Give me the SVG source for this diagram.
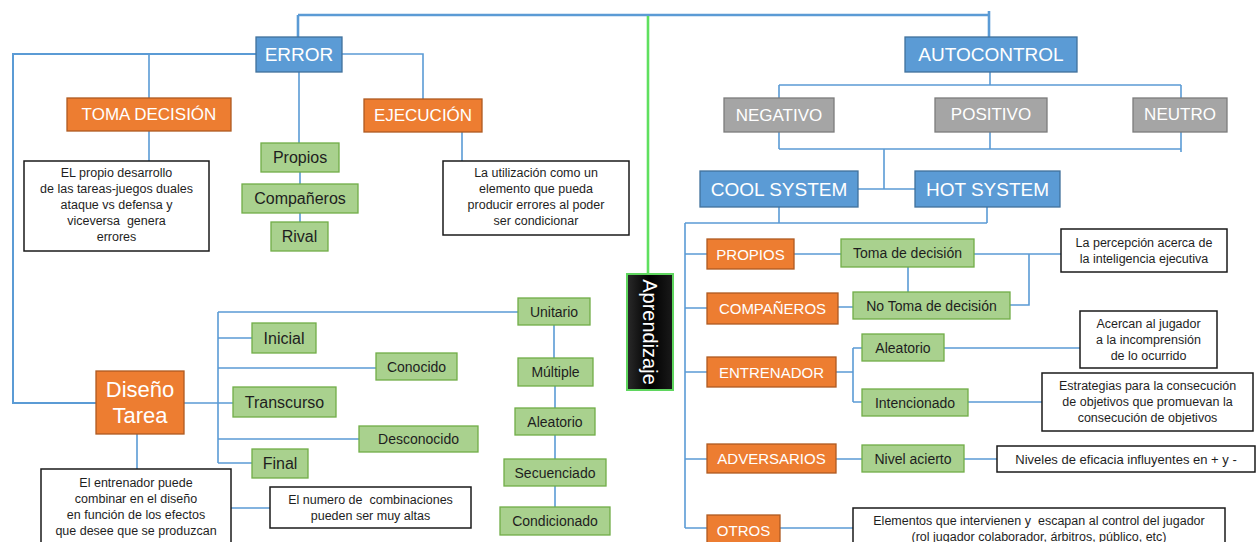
<svg xmlns="http://www.w3.org/2000/svg" width="1259" height="542" viewBox="0 0 1259 542">
<defs>
<style>
.bl{fill:#5b9bd5;stroke:#41719c;stroke-width:1.3}
.or{fill:#ed7d31;stroke:#ae5a21;stroke-width:1.3}
.gr{fill:#a5a5a5;stroke:#7c7c7c;stroke-width:1.3}
.gn{fill:#a9d18e;stroke:#70ad47;stroke-width:1.3}
.tb{fill:#ffffff;stroke:#1a1a1a;stroke-width:1.5}
text{font-family:"Liberation Sans",Arial,sans-serif;text-anchor:middle;dominant-baseline:central;white-space:pre}
.w{fill:#ffffff}
.d{fill:#1e1e1e}
.c{fill:none;stroke:#5b9bd5;stroke-width:1.6}
</style>
<linearGradient id="apg" x1="0" y1="0" x2="1" y2="0">
<stop offset="0" stop-color="#2a2a2a"/>
<stop offset="0.5" stop-color="#000000"/>
<stop offset="1" stop-color="#1a1a1a"/>
</linearGradient>
</defs>
<rect width="1259" height="542" fill="#ffffff"/>
<g id="connectors">
<path class="c" style="stroke-width:2.6" d="M298,15 H989 M298,15 V37 M989,11 V37"/>
<path fill="none" stroke="#5fe05f" stroke-width="2.6" d="M648,16 V274"/>
<path class="c" style="stroke-width:2" d="M256,54 H13 V403 H96"/>
<path class="c" d="M149,54 V98 M342,54 H423 V99 M299,72 V143 M300,172 V184 M300,213 V222 M149,131 V161 M462,132 V161"/>
<path class="c" d="M990,72 V85 M779,85 H1181 M779,85 V98 M1181,85 V98 M779,132 V149 M990,132 V149 M1181,132 V152 M779,149 H1181 M884,149 V189 M858,189 H915"/>
<path class="c" d="M779,207 V223 M987,207 V223 M685,223 H987 M685,223 V528 M685,254 H707 M685,308 H707 M685,372 H707 M685,459 H707 M685,528 H707"/>
<path class="c" d="M794,254 H841 M974,254 H1061 M1029,254 V305 H1010 M908,267 V292 M838,307 H853"/>
<path class="c" d="M836,372 H853 M853,348 V402 M853,348 H862 M853,402 H862 M944,348 H1080 M968,402 H1042 M836,459 H862 M964,459 H997 M780,528 H853"/>
<path class="c" d="M184,403 H233 M218,312 V463 M218,312 H518 M218,338 H252 M218,368 H376 M218,439 H359 M218,463 H252"/>
<path class="c" d="M554,325 V358 M555,386 V408 M555,435 V459 M555,486 V507 M137,434 V469 M231,508 H270"/>
</g>
<g id="error"><rect class="bl" x="256" y="37" width="86" height="35"/><text class="w" x="299" y="54.5" font-size="19">ERROR</text></g>
<g id="autocontrol"><rect class="bl" x="905" y="37" width="172" height="35"/><text class="w" x="991" y="54.5" font-size="19">AUTOCONTROL</text></g>
<g id="toma-decision"><rect class="or" x="67" y="98" width="164" height="33"/><text class="w" x="149" y="114.5" font-size="17">TOMA DECISIÓN</text></g>
<g id="ejecucion"><rect class="or" x="364" y="99" width="118" height="33"/><text class="w" x="423" y="115.5" font-size="17">EJECUCIÓN</text></g>
<g id="propios-l"><rect class="gn" x="261" y="143" width="78" height="29"/><text class="d" x="300" y="157.5" font-size="16">Propios</text></g>
<g id="companeros-l"><rect class="gn" x="242" y="184" width="116" height="29"/><text class="d" x="300" y="198.5" font-size="16">Compañeros</text></g>
<g id="rival"><rect class="gn" x="271" y="222" width="57" height="29"/><text class="d" x="299.5" y="236.5" font-size="16">Rival</text></g>
<g id="box1"><rect class="tb" x="24" y="161" width="185" height="90"/>
<text class="d" font-size="12.5" xml:space="preserve"><tspan x="116.5" y="173">EL propio desarrollo</tspan><tspan x="116.5" y="189">de las tareas-juegos duales</tspan><tspan x="116.5" y="205">ataque vs defensa y</tspan><tspan x="116.5" y="221">viceversa  genera</tspan><tspan x="116.5" y="237">errores</tspan></text></g>
<g id="box2"><rect class="tb" x="443" y="161" width="186" height="74"/>
<text class="d" font-size="12.5"><tspan x="536" y="173">La utilización como un</tspan><tspan x="536" y="189">elemento que pueda</tspan><tspan x="536" y="205">producir errores al poder</tspan><tspan x="536" y="221">ser condicionar</tspan></text></g>
<g id="negativo"><rect class="gr" x="724" y="98" width="110" height="34"/><text class="w" x="779" y="115" font-size="17">NEGATIVO</text></g>
<g id="positivo"><rect class="gr" x="935" y="98" width="112" height="34"/><text class="w" x="991" y="114" font-size="17">POSITIVO</text></g>
<g id="neutro"><rect class="gr" x="1133" y="98" width="94" height="34"/><text class="w" x="1180" y="114" font-size="17">NEUTRO</text></g>
<g id="cool"><rect class="bl" x="700" y="171" width="158" height="36"/><text class="w" x="779" y="189" font-size="19">COOL SYSTEM</text></g>
<g id="hot"><rect class="bl" x="915" y="171" width="145" height="36"/><text class="w" x="987.5" y="189" font-size="19">HOT SYSTEM</text></g>
<g id="aprendizaje"><rect x="627" y="274" width="46" height="116" fill="url(#apg)" stroke="#5fd65f" stroke-width="2"/><text class="w" x="0" y="0" font-size="20" transform="translate(650,332) rotate(90)">Aprendizaje</text></g>
<g id="propios-r"><rect class="or" x="707" y="239" width="87" height="30"/><text class="w" x="750.5" y="254" font-size="15">PROPIOS</text></g>
<g id="toma-r"><rect class="gn" x="841" y="239" width="133" height="28"/><text class="d" x="907.5" y="253" font-size="14">Toma de decisión</text></g>
<g id="percepcion"><rect class="tb" x="1061" y="229" width="166" height="43"/>
<text class="d" font-size="12.5"><tspan x="1144" y="243">La percepción acerca de</tspan><tspan x="1144" y="259">la inteligencia ejecutiva</tspan></text></g>
<g id="companeros-r"><rect class="or" x="707" y="293" width="131" height="31"/><text class="w" x="772.5" y="308.5" font-size="15">COMPAÑEROS</text></g>
<g id="notoma"><rect class="gn" x="853" y="292" width="157" height="27"/><text class="d" x="931.5" y="305.5" font-size="14">No Toma de decisión</text></g>
<g id="entrenador"><rect class="or" x="707" y="357" width="129" height="30"/><text class="w" x="771.5" y="372" font-size="15">ENTRENADOR</text></g>
<g id="aleatorio-r"><rect class="gn" x="862" y="334" width="82" height="27"/><text class="d" x="903" y="347.5" font-size="14">Aleatorio</text></g>
<g id="intencionado"><rect class="gn" x="862" y="389" width="106" height="27"/><text class="d" x="915" y="402.5" font-size="14">Intencionado</text></g>
<g id="acercan"><rect class="tb" x="1080" y="311" width="137" height="57"/>
<text class="d" font-size="12.5"><tspan x="1148.5" y="324">Acercan al jugador</tspan><tspan x="1148.5" y="340">a la incomprensión</tspan><tspan x="1148.5" y="356">de lo ocurrido</tspan></text></g>
<g id="estrategias"><rect class="tb" x="1042" y="373" width="211" height="58"/>
<text class="d" font-size="12.5"><tspan x="1147.5" y="386">Estrategias para la consecución</tspan><tspan x="1147.5" y="402">de objetivos que promuevan la</tspan><tspan x="1147.5" y="418">consecución de objetivos</tspan></text></g>
<g id="adversarios"><rect class="or" x="707" y="444" width="129" height="29"/><text class="w" x="771.5" y="458.5" font-size="15">ADVERSARIOS</text></g>
<g id="nivel"><rect class="gn" x="862" y="445" width="102" height="27"/><text class="d" x="913" y="458.5" font-size="14">Nivel acierto</text></g>
<g id="niveles"><rect class="tb" x="997" y="446" width="258" height="26"/><text class="d" x="1126" y="459" font-size="13">Niveles de eficacia influyentes en + y -</text></g>
<g id="otros"><rect class="or" x="707" y="515" width="73" height="32"/><text class="w" x="743.5" y="530" font-size="15">OTROS</text></g>
<g id="elementos"><rect class="tb" x="853" y="508" width="372" height="42"/>
<text class="d" font-size="12.5" xml:space="preserve"><tspan x="1039" y="521">Elementos que intervienen y  escapan al control del jugador</tspan><tspan x="1039" y="537">(rol jugador colaborador, árbitros, público, etc)</tspan></text></g>
<g id="diseno"><rect class="or" x="96" y="371" width="88" height="63"/><text class="w" font-size="22"><tspan x="140" y="389">Diseño</tspan><tspan x="140" y="415">Tarea</tspan></text></g>
<g id="inicial"><rect class="gn" x="252" y="323" width="64" height="30"/><text class="d" x="284" y="338" font-size="16">Inicial</text></g>
<g id="conocido"><rect class="gn" x="376" y="353" width="81" height="27"/><text class="d" x="416.5" y="366.5" font-size="14">Conocido</text></g>
<g id="transcurso"><rect class="gn" x="233" y="387" width="103" height="30"/><text class="d" x="284.5" y="402" font-size="16">Transcurso</text></g>
<g id="desconocido"><rect class="gn" x="359" y="426" width="119" height="26"/><text class="d" x="418.5" y="439" font-size="14">Desconocido</text></g>
<g id="final"><rect class="gn" x="252" y="449" width="56" height="29"/><text class="d" x="280" y="463.5" font-size="16">Final</text></g>
<g id="unitario"><rect class="gn" x="518" y="298" width="72" height="27"/><text class="d" x="554" y="311.5" font-size="14">Unitario</text></g>
<g id="multiple"><rect class="gn" x="518" y="358" width="75" height="28"/><text class="d" x="555.5" y="372" font-size="14">Múltiple</text></g>
<g id="aleatorio-l"><rect class="gn" x="515" y="408" width="80" height="27"/><text class="d" x="555" y="421.5" font-size="14">Aleatorio</text></g>
<g id="secuenciado"><rect class="gn" x="504" y="459" width="102" height="27"/><text class="d" x="555" y="472.5" font-size="14">Secuenciado</text></g>
<g id="condicionado"><rect class="gn" x="500" y="507" width="110" height="28"/><text class="d" x="555" y="521" font-size="14">Condicionado</text></g>
<g id="box3"><rect class="tb" x="41" y="469" width="190" height="80"/>
<text class="d" font-size="12.5"><tspan x="136" y="483">El entrenador puede</tspan><tspan x="136" y="499">combinar en el diseño</tspan><tspan x="136" y="515">en función de los efectos</tspan><tspan x="136" y="531">que desee que se produzcan</tspan></text></g>
<g id="box4"><rect class="tb" x="270" y="487" width="201" height="41"/>
<text class="d" font-size="12.5" xml:space="preserve"><tspan x="370.5" y="500">El numero de  combinaciones</tspan><tspan x="370.5" y="516">pueden ser muy altas</tspan></text></g>
</svg>
